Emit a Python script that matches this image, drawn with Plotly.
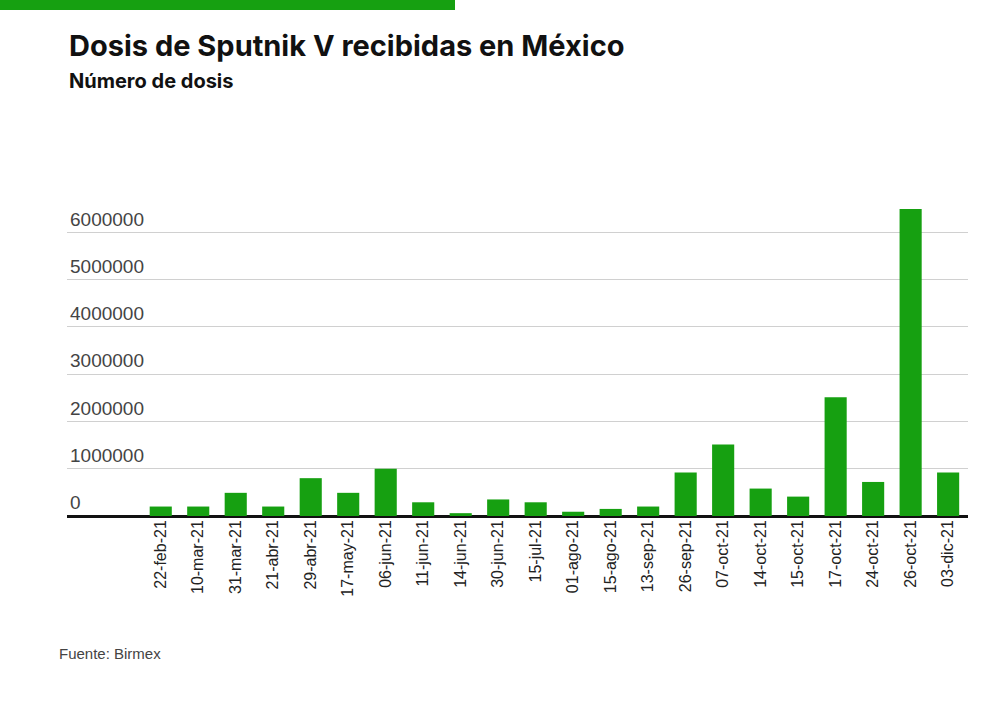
import plotly.graph_objects as go

# fechas de llegada y dosis recibidas
fechas = ['22-feb-21', '10-mar-21', '31-mar-21', '21-abr-21', '29-abr-21', '17-may-21',
          '06-jun-21', '11-jun-21', '14-jun-21', '30-jun-21', '15-jul-21', '01-ago-21',
          '15-ago-21', '13-sep-21', '26-sep-21', '07-oct-21', '14-oct-21', '15-oct-21',
          '17-oct-21', '24-oct-21', '26-oct-21', '03-dic-21']
dosis = [200000, 200000, 490000, 200000, 800000, 490000,
         1000000, 290000, 60000, 350000, 290000, 90000,
         150000, 200000, 920000, 1510000, 580000, 410000,
         2510000, 720000, 6490000, 920000]

y_ticks = [0, 1000000, 2000000, 3000000, 4000000, 5000000, 6000000]

verde = '#16a011'

# area del grafico en pixeles
W, H = 1000, 701
L, R, T, B = 67, 32, 185, 185
plot_w = W - L - R
plot_h = H - T - B


def px(x):
    return (x - L) / plot_w


def py(y):
    return (H - B - y) / plot_h


fig = go.Figure()
fig.add_trace(go.Bar(x=fechas, y=dosis, marker_color=verde, marker_line_width=0))

fig.update_layout(
    width=W, height=H,
    paper_bgcolor='white', plot_bgcolor='white',
    margin=dict(l=L, r=R, t=T, b=B),
    showlegend=False,
    bargap=0.41,
    font=dict(family='Inter, Roboto, sans-serif', color='#222'),
)

fig.update_xaxes(
    type='category',
    range=[-2.5, len(fechas) - 0.47],
    tickangle=-90,
    tickfont=dict(family='Liberation Sans, Arial, sans-serif', size=16, color='#222'),
    showgrid=False, showline=False, ticks='',
)

fig.update_yaxes(
    range=[0, 7000000],
    tickvals=y_ticks,
    ticktext=[str(v) for v in y_ticks],
    ticklabelposition='inside top',
    ticklabelstandoff=0,
    tickfont=dict(family='Liberation Sans, Arial, sans-serif', size=19, color='#444'),
    showgrid=True, gridcolor='#d0d0d0', gridwidth=1,
    zeroline=True, zerolinecolor='#111', zerolinewidth=3,
    showline=False, ticks='',
)

# barra verde superior
fig.add_shape(type='rect', xref='paper', yref='paper',
              x0=px(0), x1=px(455), y0=py(10), y1=py(0),
              fillcolor=verde, line_width=0, layer='above')

fig.add_annotation(text='<b>Dosis de Sputnik V recibidas en México</b>',
                   xref='paper', yref='paper', x=px(67), y=py(45),
                   xanchor='left', yanchor='middle', showarrow=False,
                   font=dict(family='Inter, sans-serif', size=29, color='#111'))
fig.add_annotation(text='<b>Número de dosis</b>',
                   xref='paper', yref='paper', x=px(67), y=py(81),
                   xanchor='left', yanchor='middle', showarrow=False,
                   font=dict(family='Inter, sans-serif', size=20, color='#111'))
fig.add_annotation(text='Fuente: Birmex',
                   xref='paper', yref='paper', x=px(57), y=py(653),
                   xanchor='left', yanchor='middle', showarrow=False,
                   font=dict(family='Liberation Sans, Arial, sans-serif', size=15, color='#444'))

# sin margen del body para que la figura empiece en 0,0
fig.write_html('out.html', config={'displayModeBar': False},
               post_script="document.body.style.margin='0';")
